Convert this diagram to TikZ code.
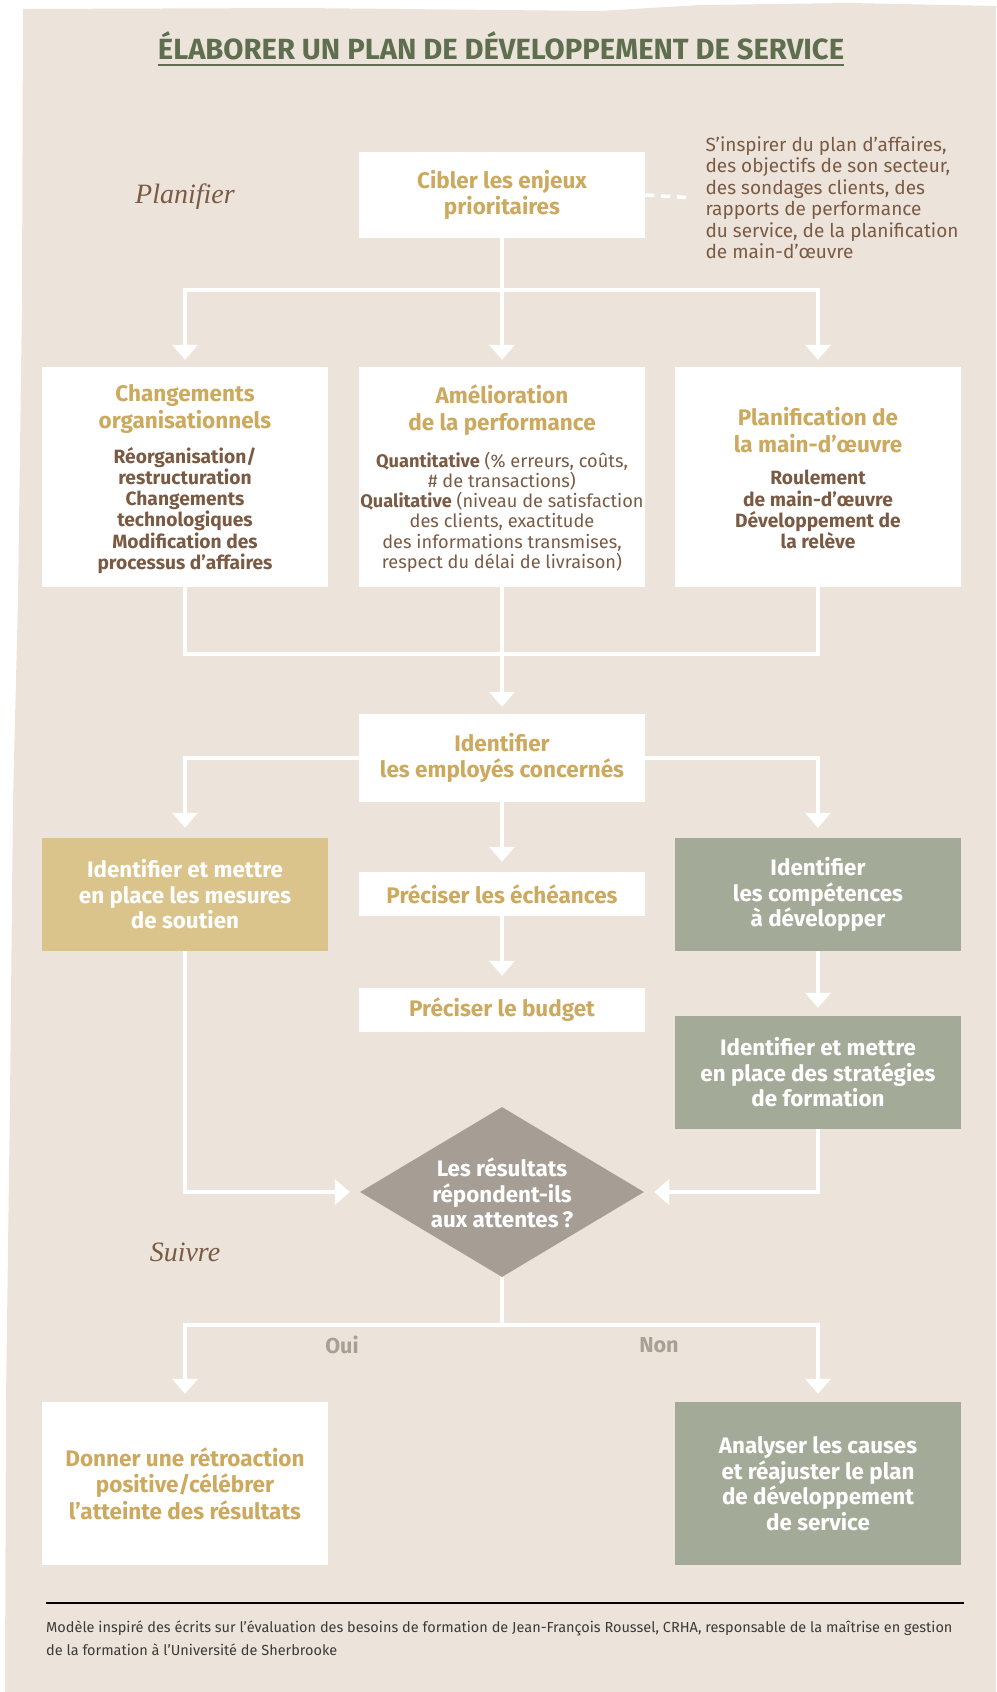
\documentclass[tikz,border=0pt]{standalone}
\usepackage{fontspec}
\usetikzlibrary{arrows.meta,shapes.geometric}
\newfontfamily\cnd{Fira Sans}
\newfontfamily\ttl{Fira Sans}
\newfontfamily\phs{Liberation Serif}
\definecolor{bg}{HTML}{ECE4DA}
\definecolor{gold}{HTML}{CCA95E}
\definecolor{goldfill}{HTML}{DBC48C}
\definecolor{sage}{HTML}{A3AB98}
\definecolor{dia}{HTML}{A69E94}
\definecolor{brown}{HTML}{7B5A43}
\definecolor{ttlgreen}{HTML}{5E6E4E}
\definecolor{yn}{HTML}{A8A095}
\definecolor{foot}{HTML}{3A3A3A}
\tikzset{
  wl/.style={white, line width=3.5pt},
  arr/.style={wl, -{Triangle[width=25pt,length=15pt]}},
  box/.style={rectangle, draw=none, fill=white, minimum width=286pt, inner sep=0pt},
  goldtxt/.style={text=gold, font=\cnd\bfseries\fontsize{22.5}{26.5}\selectfont, align=center},
  whitetxt/.style={text=white, font=\cnd\bfseries\fontsize{22.4}{25.5}\selectfont, align=center},
  bodytxt/.style={text=brown, font=\cnd\bfseries\fontsize{19.2}{21.2}\selectfont, align=center},
  bodyreg/.style={text=brown, font=\cnd\fontsize{18.2}{20.2}\selectfont, align=center},
  sidetxt/.style={text=brown, font=\cnd\fontsize{19}{21.5}\selectfont, align=left},
  phase/.style={text=brown, font=\phs\itshape\fontsize{28}{30}\selectfont},
  yntxt/.style={text=yn, font=\cnd\bfseries\fontsize{21.6}{24}\selectfont},
  foottxt/.style={text=foot, font=\cnd\fontsize{14.5}{23}\selectfont, align=left},
}
\begin{document}
\begin{tikzpicture}[x=1pt,y=-1pt]
\useasboundingbox (0,0) rectangle (996,1692);
\fill[bg] (23,9) -- (300,8) -- (600,11) -- (700,5) -- (850,3) -- (996,6) -- (996,1692)
  -- (5,1692) -- (6,1400) -- (10,1100) -- (13,800) -- (18,600) -- (22,300) -- cycle;

% title
\node[text=ttlgreen, font=\ttl\bfseries\fontsize{29.2}{32}\selectfont, inner sep=0pt, anchor=base] (title) at (501,59) {ÉLABORER UN PLAN DE DÉVELOPPEMENT DE SERVICE};
\draw[ttlgreen, line width=1.8pt] ([yshift=-6pt]title.base west) -- ([yshift=-6pt]title.base east);

% phase labels
\node[phase] (planifier) at (185,197) {Planifier};
\node[phase] (suivre) at (185,1252) {Suivre};

% boxes
\node[box, minimum height=86pt, goldtxt] (cible) at (502,195) {Cibler les enjeux\\prioritaires};
\node[sidetxt, anchor=west] (src) at (702,197.5) {S’inspirer du plan d’affaires,\\des objectifs de son secteur,\\des sondages clients, des\\rapports de performance\\du service, de la planification\\de main-d’œuvre};

\node[box, minimum height=220pt] (chg) at (185,477) {};
\node[box, minimum height=220pt] (perf) at (502,477) {};
\node[box, minimum height=220pt] (plan) at (818,477) {};
\node[goldtxt] (chgh) at (185,409) {Changements\\organisationnels};
\node[bodytxt] (chgb) at (185,510.5) {Réorganisation/\\restructuration\\Changements\\technologiques\\Modification des\\processus d’affaires};
\node[goldtxt] (perfh) at (502,410) {Amélioration\\de la performance};
\node[bodyreg] (perfb) at (502,512) {\textbf{Quantitative} (\% erreurs, coûts,\\\# de transactions)\\\textbf{Qualitative} (niveau de satisfaction\\des clients, exactitude\\des informations transmises,\\respect du délai de livraison)};
\node[goldtxt] (planh) at (818,430) {Planification de\\la main-d’œuvre};
\node[bodytxt] (planb) at (818,509.5) {Roulement\\de main-d’œuvre\\Développement de\\la relève};

\node[box, minimum height=88pt, goldtxt] (ident) at (502,758) {Identifier\\les employés concernés};
\node[box, minimum height=113pt, fill=goldfill, whitetxt] (soutien) at (185,894.5) {Identifier et mettre\\en place les mesures\\de soutien};
\node[box, minimum height=113pt, fill=sage, whitetxt] (comp) at (818,894.5) {Identifier\\les compétences\\à développer};
\node[box, minimum height=44pt, goldtxt] (ech) at (502,894) {Préciser les échéances};
\node[box, minimum height=44pt, goldtxt] (budget) at (502,1010) {Préciser le budget};
\node[box, minimum height=113pt, fill=sage, whitetxt] (strat) at (818,1072.5) {Identifier et mettre\\en place des stratégies\\de formation};

\node[diamond, fill=dia, draw=none, inner sep=0pt, minimum width=284pt, minimum height=170pt] (dia) at (502,1192) {};
\node[whitetxt] (diatxt) at (502,1193) {Les résultats\\répondent-ils\\aux attentes\,?};

\node[box, minimum height=163pt, goldtxt] (retro) at (185,1483.5) {Donner une rétroaction\\positive/célébrer\\l’atteinte des résultats};
\node[box, minimum height=163pt, fill=sage, whitetxt] (analyse) at (818,1483.5) {Analyser les causes\\et réajuster le plan\\de développement\\de service};

\node[yntxt] (oui) at (342,1345) {Oui};
\node[yntxt] (non) at (659,1345) {Non};

% connectors
\draw[wl, dash pattern=on 9pt off 7pt] (cible.east) -- ([xshift=-15pt]src.west);
\coordinate (j1) at (502,290);
\draw[arr] (cible.south) -- (j1) -| ([yshift=7pt]chg.north);
\draw[arr] (cible.south) -- (j1) -| ([yshift=7pt]plan.north);
\draw[arr] (cible.south) -- ([yshift=7pt]perf.north);
\coordinate (j2) at (502,654);
\draw[wl] (chg.south) |- (j2);
\draw[wl] (plan.south) |- (j2);
\draw[arr] (perf.south) -- ([yshift=7pt]ident.north);
\draw[arr] (ident.west) -| ([yshift=10pt]soutien.north);
\draw[arr] (ident.east) -| ([yshift=10pt]comp.north);
\draw[arr] (ident.south) -- ([yshift=10pt]ech.north);
\draw[arr] (ech.south) -- ([yshift=12pt]budget.north);
\draw[arr] (comp.south) -- ([yshift=8pt]strat.north);
\draw[arr] (soutien.south) |- ([xshift=-10pt]dia.west);
\draw[arr] (strat.south) |- ([xshift=10pt]dia.east);
\coordinate (j3) at (502,1325);
\draw[arr] (dia.south) -- (j3) -| ([yshift=8pt]retro.north);
\draw[arr] (dia.south) -- (j3) -| ([yshift=8pt]analyse.north);

% footer
\coordinate (fl) at (46,1603);
\coordinate (fr) at (964,1603);
\draw[black, line width=1.2pt] (fl) -- (fr);
\node[foottxt, anchor=west, inner sep=0pt] (footer) at (46,1638.5) {Modèle inspiré des écrits sur l’évaluation des besoins de formation de Jean-François Roussel, CRHA, responsable de la maîtrise en gestion\\de la formation à l’Université de Sherbrooke};
\end{tikzpicture}
\end{document}
